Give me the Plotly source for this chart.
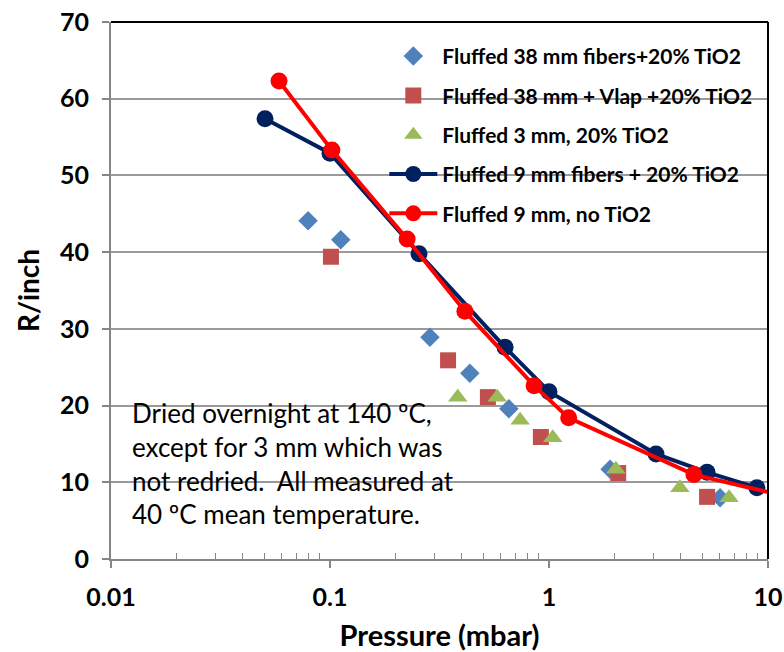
import plotly.graph_objects as go

# Fluffed 38 mm fibers + 20% TiO2
p38 = [0.0794, 0.112, 0.286, 0.435, 0.656, 1.9, 6.04]
r38 = [44.1, 41.6, 28.9, 24.2, 19.6, 11.7, 8.0]
# Fluffed 38 mm + Vlap + 20% TiO2
p38v = [0.101, 0.346, 0.526, 0.918, 2.07, 5.27]
r38v = [39.4, 25.9, 21.1, 15.9, 11.2, 8.1]
# Fluffed 3 mm, 20% TiO2
p3 = [0.383, 0.58, 0.738, 1.04, 2.02, 3.96, 6.64]
r3 = [21.1, 21.1, 18.1, 15.8, 11.7, 9.3, 8.0]
# Fluffed 9 mm fibers + 20% TiO2
p9 = [0.0505, 0.1, 0.255, 0.63, 1.0, 3.08, 5.27, 8.9]
r9 = [57.4, 52.9, 39.8, 27.6, 21.8, 13.7, 11.3, 9.3]
# Fluffed 9 mm, no TiO2
p9n = [0.0585, 0.102, 0.225, 0.413, 0.855, 1.23, 4.59, 12.0]
r9n = [62.3, 53.3, 41.7, 32.3, 22.6, 18.4, 11.0, 8.2]

names = ["Fluffed 38 mm fibers+20% TiO2", "Fluffed 38 mm + Vlap +20% TiO2",
         "Fluffed 3 mm, 20% TiO2", "Fluffed 9 mm fibers + 20% TiO2",
         "Fluffed 9 mm, no TiO2"]

x_ticks = [0.01, 0.1, 1, 10]
x_ticklabels = ["0.01", "0.1", "1", "10"]
x_minor = [m * d for d in [0.01, 0.1, 1] for m in range(2, 10)]
y_ticks = [0, 10, 20, 30, 40, 50, 60, 70]

FONT = "Lato"

fig = go.Figure()
fig.add_trace(go.Scatter(x=p38, y=r38, mode="markers", name=names[0], legendgroup="a",
                         marker=dict(symbol="diamond", size=15, color="#4F81BD")))
fig.add_trace(go.Scatter(x=p38v, y=r38v, mode="markers", name=names[1], legendgroup="b",
                         marker=dict(symbol="square", size=16, color="#C0504D")))
fig.add_trace(go.Scatter(x=p3, y=r3, mode="markers", name=names[2], legendgroup="c",
                         marker=dict(symbol="triangle-up", size=17, color="#9BBB59")))
fig.add_trace(go.Scatter(x=p9, y=r9, mode="lines+markers", name=names[3], legendgroup="d",
                         line=dict(color="#002060", width=4),
                         marker=dict(symbol="circle", size=17, color="#002060")))
fig.add_trace(go.Scatter(x=p9n, y=r9n, mode="lines+markers", name=names[4], legendgroup="e",
                         line=dict(color="#FF0000", width=4),
                         marker=dict(symbol="circle", size=17, color="#FF0000")))

fig.update_layout(
    width=784, height=652,
    margin=dict(l=111, r=16, t=22, b=93),
    paper_bgcolor="white", plot_bgcolor="white",
    font=dict(family=FONT, color="black"),
    showlegend=True,
    legend=dict(x=0.416, y=0.974, xanchor="left", yanchor="top",
                bgcolor="rgba(0,0,0,0)", tracegroupgap=9,
                font=dict(family=FONT, size=21, color="black", weight="bold"),
                itemwidth=48),
    xaxis=dict(type="log", range=[-2, 1], tickvals=x_ticks, ticktext=x_ticklabels,
               automargin=False,
               showgrid=False, showline=True, linecolor="#868686", linewidth=2,
               ticks="outside", ticklen=7, tickcolor="#868686", tickwidth=2,
               minor=dict(tickvals=x_minor, ticks="inside", ticklen=6, tickcolor="#868686",
                          tickwidth=1, showgrid=False),
               tickfont=dict(size=25, family=FONT, weight="bold"),
               ticklabelstandoff=8,
               title=dict(text="Pressure (mbar)", font=dict(size=29, family=FONT, weight="bold"), standoff=16),
               zeroline=False),
    yaxis=dict(range=[0, 70], tickvals=y_ticks, showgrid=True, gridcolor="#9A9A9A", gridwidth=2,
               automargin=False,
               showline=True, linecolor="#868686", linewidth=2,
               ticks="outside", ticklen=7, tickcolor="#868686", tickwidth=2,
               tickfont=dict(size=25, family=FONT, weight="bold"),
               ticklabelstandoff=8,
               title=dict(text="R/inch", font=dict(size=28, family=FONT, weight="bold"), standoff=12),
               zeroline=False),
)

# black top and right borders
fig.add_shape(type="line", xref="paper", yref="paper", x0=0, x1=1, y0=1, y1=1,
              line=dict(color="black", width=2))
fig.add_shape(type="line", xref="paper", yref="paper", x0=1, x1=1, y0=0, y1=1,
              line=dict(color="black", width=2))

fig.add_annotation(xref="paper", yref="paper", x=0.029, y=0.177, xanchor="left", yanchor="middle",
                   align="left", showarrow=False,
                   text="Dried overnight at 140 ºC,<br>except for 3 mm which was<br>not redried.  All measured at<br>40 ºC mean temperature.",
                   font=dict(family=FONT, size=26, color="black"))

fig.write_html("out.html")
